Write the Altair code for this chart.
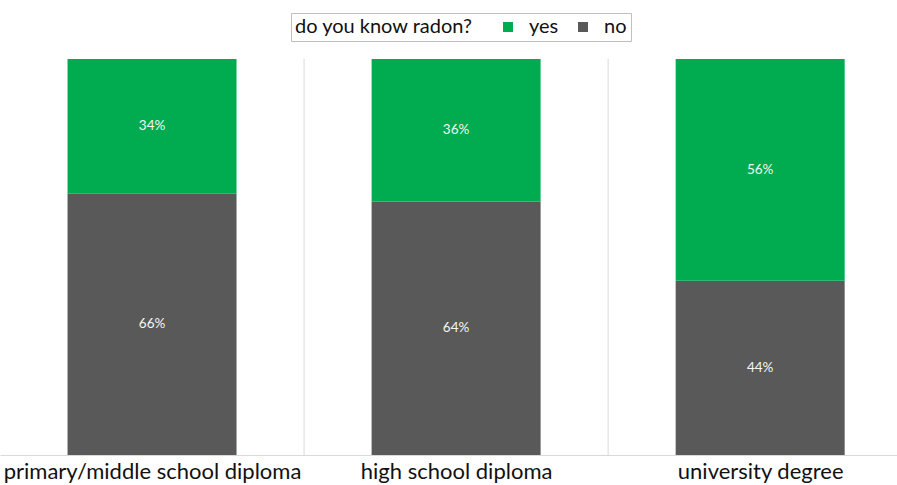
import json
import altair as alt
import pandas as pd

categories = ["primary/middle school diploma", "high school diploma", "university degree"]
yes_pct = [34, 36, 56]
no_pct = [66, 64, 44]
answers = ["yes", "no"]
colors = ["#00ac4f", "#595959"]
separators = [0.5, 1.5]

rows = []
for i, c in enumerate(categories):
    rows.append({"idx": i, "cat": c, "answer": "no", "ord": 0, "value": no_pct[i]})
    rows.append({"idx": i, "cat": c, "answer": "yes", "ord": 1, "value": yes_pct[i]})
df = pd.DataFrame(rows)
sep_df = pd.DataFrame({"pos": separators})

font = "Lato"
xscale = alt.Scale(domain=[-0.5, 2.45], nice=False, zero=False, padding=0)
yscale = alt.Scale(domain=[0, 100], nice=False)
label_expr = json.dumps(categories) + "[datum.value]"

base = alt.Chart(df).transform_stack(
    stack="value", groupby=["cat"], as_=["y0", "y1"], sort=[alt.SortField("ord")]
).transform_calculate(
    mid="(datum.y0 + datum.y1) / 2",
    lbl="datum.value + '%'"
)

seps = alt.Chart(sep_df).mark_rule(color="#d9d9d9", strokeWidth=1).encode(
    x=alt.X("pos:Q", scale=xscale),
    y=alt.value(0),
    y2=alt.value(396),
)

bars = base.mark_bar(size=169).encode(
    x=alt.X("idx:Q", scale=xscale,
            axis=alt.Axis(values=[0, 1, 2], labelExpr=label_expr, title=None,
                          ticks=False, grid=False, domain=True, domainColor="#d9d9d9",
                          labelFontSize=22, labelFont=font, labelColor="#111111",
                          labelPadding=6, labelFlush=False, labelOverlap=False,
                          labelLimit=0)),
    y=alt.Y("y0:Q", scale=yscale, axis=None),
    y2="y1:Q",
    color=alt.Color("answer:N",
                    scale=alt.Scale(domain=answers, range=colors),
                    legend=alt.Legend(title="do you know radon?", orient="none",
                                      legendX=291, legendY=-46, direction="horizontal",
                                      titleOrient="left", titleFontSize=20,
                                      titleFontWeight="normal", titleFont=font,
                                      titleColor="#111111", titlePadding=25,
                                      labelFontSize=20, labelFont=font, labelColor="#111111",
                                      labelOffset=11, columnPadding=14,
                                      symbolType="square", symbolSize=100,
                                      symbolStrokeWidth=0, strokeColor="#bfbfbf",
                                      padding=4, titleBaseline="middle",
                                      titleAnchor="middle")),
)

texts = base.mark_text(color="#f5f5f5", fontSize=13.5, font=font).encode(
    x=alt.X("idx:Q", scale=xscale),
    y=alt.Y("mid:Q", scale=yscale),
    text="lbl:N",
)

chart = alt.layer(seps, bars, texts).properties(
    width=897, height=396,
    autosize=alt.AutoSizeParams(type="none"),
    padding={"left": 0, "top": 59, "right": 0, "bottom": 30},
).configure_view(stroke=None)

chart.save("out.html", embed_options={"renderer": "svg", "actions": False})
